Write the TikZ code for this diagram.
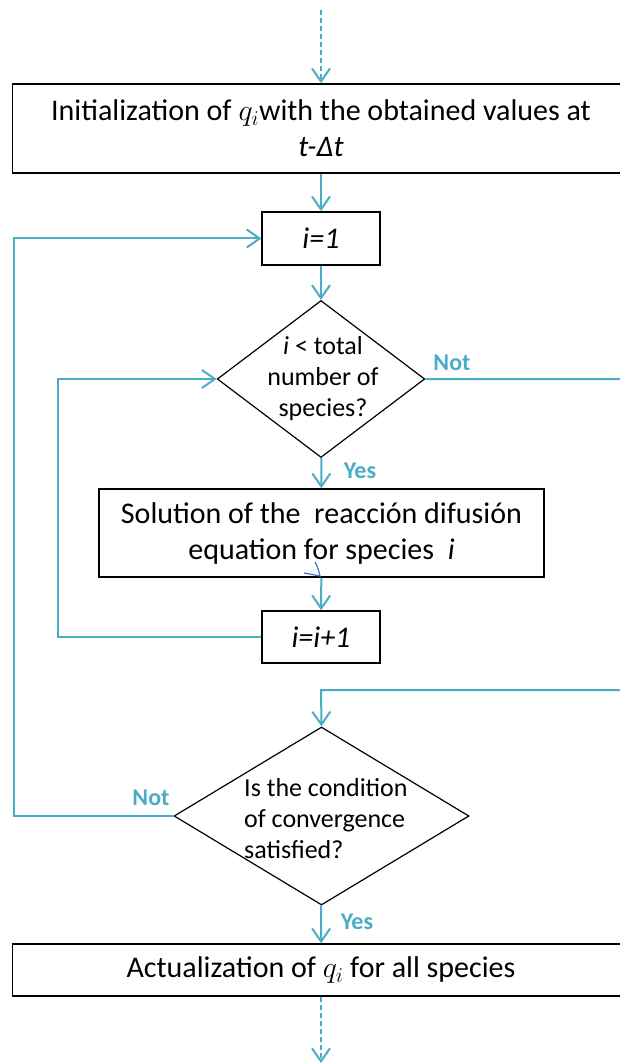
\RequirePackage{fix-cm}
\documentclass[tikz,border=0pt]{standalone}
\usepackage{fontspec}
\setmainfont{Carlito}
\usetikzlibrary{shapes.geometric,arrows.meta}
\definecolor{flowblue}{RGB}{75,172,198}
\definecolor{strayblue}{RGB}{68,114,196}
\begin{document}
\begin{tikzpicture}[
        x=1pt, y=-1pt,
        block/.style={rectangle, draw, line width=1.6pt, inner sep=0pt, align=center, font=\fontsize{30}{36}\selectfont},
        decision/.style={diamond, draw, line width=1.2pt, inner sep=0pt},
        dtext/.style={align=center, inner sep=0pt, font=\fontsize{26}{31}\selectfont},
        answer/.style={text=flowblue, inner sep=0pt, font=\bfseries\fontsize{24}{28}\selectfont},
        arrow/.style={-{Straight Barb[length=13pt,width=18pt]}, flowblue, line width=2pt}
    ]
        \clip (0,0) rectangle (620,1064);
        % Blocks
        \node[block, minimum width=617pt, minimum height=89pt] (init) at (321,128.5) {Initialization of $q_i$with the obtained values at\\\textit{t-Δt}};
        \node[block, minimum width=117.5pt, minimum height=53pt] (first) at (321,238.5) {\textit{i=1}};
        \node[decision, minimum width=207.5pt, minimum height=157pt] (check) at (321,379) {};
        \node[dtext] (checktext) at (323,379) {\textit{i} < total\\number of\\species?};
        \node[block, minimum width=445pt, minimum height=88pt] (solve) at (321.5,533) {Solution of the~ reacción difusión\\equation for species~ \textit{i}};
        \node[block, minimum width=117.5pt, minimum height=52pt] (next) at (321,637) {\textit{i=i+1}};
        \node[decision, minimum width=295pt, minimum height=178pt] (conv) at (321.5,816) {};
        \node[dtext, align=left, anchor=west] (convtext) at (244,819) {Is the condition\\of convergence\\satisfied?};
        \node[block, minimum width=617pt, minimum height=52pt] (update) at (321,970) {Actualization of $q_i$ for all species};

        % Labels
        \node[answer] (not1) at (452,363) {Not};
        \node[answer] (yes1) at (360,471) {Yes};
        \node[answer] (not2) at (151,798) {Not};
        \node[answer] (yes2) at (357,922) {Yes};

        % Points
        \coordinate (start) at (321,10);
        \coordinate (finish) at (321,1063);
        \coordinate (outerx) at (14,0);
        \coordinate (innerx) at (58,0);
        \coordinate (rightx) at (640,0);
        \coordinate (merge) at (321,690);

        % Arrows
        \draw[arrow, dash pattern=on 5pt off 3pt] (start) -- (init);
        \draw[arrow] (init) -- (first);
        \draw[arrow] (first) -- (check);
        \draw[arrow] (check) -- (solve);
        \draw[arrow] (solve) -- (next);
        \draw[arrow] (next.west) -- (next.west -| innerx) |- (check.west);
        \draw[arrow] (check.east) -| (rightx |- merge) -- (merge) -- (conv.north);
        \draw[arrow] (conv.west) -| (outerx |- first) -- (first.west);
        \draw[arrow] (conv) -- (update);
        \draw[arrow, dash pattern=on 5pt off 3pt] (update) -- (finish);

        % stray mark
        \draw[strayblue, line width=1.2pt] (315,562) .. controls (318,568) .. (320,576) -- (304,573);

    \end{tikzpicture}
\end{document}
